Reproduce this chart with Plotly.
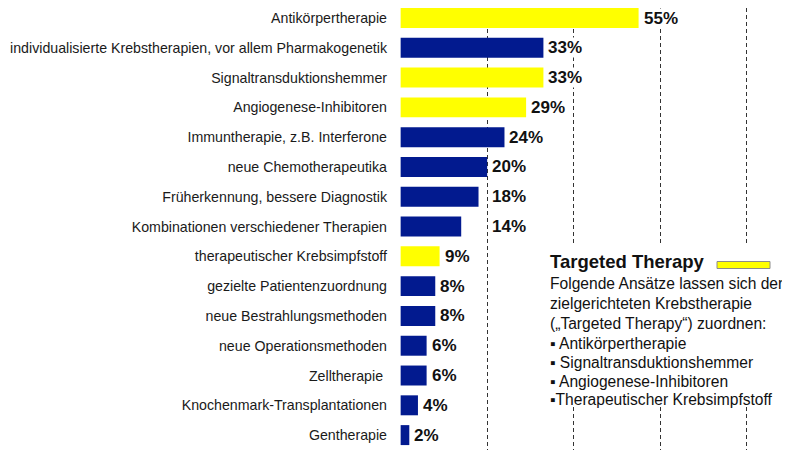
import plotly.graph_objects as go

categories = [
    "Antikörpertherapie",
    "individualisierte Krebstherapien, vor allem Pharmakogenetik",
    "Signaltransduktionshemmer",
    "Angiogenese-Inhibitoren",
    "Immuntherapie, z.B. Interferone",
    "neue Chemotherapeutika",
    "Früherkennung, bessere Diagnostik",
    "Kombinationen verschiedener Therapien",
    "therapeutischer Krebsimpfstoff",
    "gezielte Patientenzuordnung",
    "neue Bestrahlungsmethoden",
    "neue Operationsmethoden",
    "Zelltherapie\u00a0",
    "Knochenmark-Transplantationen",
    "Gentherapie",
]
values = [55, 33, 33, 29, 24, 20, 18, 14, 9, 8, 8, 6, 6, 4, 2]
targeted = [True, False, True, True, False, False, False, False, True,
            False, False, False, False, False, False]
x_ticks = [0, 20, 40, 60, 80]

YELLOW = "#FFFF00"
BLUE = "#021A8F"
colors = [YELLOW if t else BLUE for t in targeted]

# page body has an 8px margin; the figure is laid out in window pixels minus that
OFF = 8
W, H = 790 - OFF, 450 - OFF
L, R, T, B = 400 - OFF, 0, 0, 0
pw, ph = W - L - R, H - T - B
X_MAX = 90
LABEL_W = 8.5  # approx. label width in data units
SHIFT_GRID = x_ticks[1]  # labels crossing this gridline are moved past it

def px(x):
    return (x - OFF - L) / pw

def py(y):
    return (H - B - (y - OFF)) / ph

fig = go.Figure()
fig.add_trace(go.Bar(
    x=values, y=categories, orientation="h",
    marker=dict(color=colors, line=dict(width=0)),
    width=0.67,
    hoverinfo="skip",
))

for cat, v in zip(categories, values):
    pos = SHIFT_GRID if v < SHIFT_GRID < v + LABEL_W + 1 else v
    fig.add_annotation(x=pos, y=cat, xref="x", yref="y",
                       xanchor="left", yanchor="middle", xshift=4, showarrow=False,
                       text=f"<b>{v}%</b>", bgcolor="white", borderpad=0,
                       font=dict(family="Liberation Sans, Arial", size=17, color="#111"))

# white box behind the explanatory legend
fig.add_shape(type="rect", xref="paper", yref="paper",
              x0=px(543), x1=px(790), y0=py(406), y1=py(246),
              fillcolor="white", line=dict(width=0), layer="above")
# yellow legend swatch
fig.add_shape(type="rect", xref="paper", yref="paper",
              x0=px(717), x1=px(770), y0=py(268.5), y1=py(261.5),
              fillcolor=YELLOW, line=dict(color="#8c8c8c", width=1), layer="above")

fig.add_annotation(xref="paper", yref="paper", x=px(548), y=py(262),
                   xanchor="left", yanchor="middle", showarrow=False,
                   text="<b>Targeted Therapy</b>",
                   font=dict(family="Liberation Sans, Arial", size=18.5, color="#111"))

body_lines = [
    "Folgende Ansätze lassen sich der",
    "zielgerichteten Krebstherapie",
    "(„Targeted Therapy“) zuordnen:",
    "▪ Antikörpertherapie",
    "▪ Signaltransduktionshemmer",
    "▪ Angiogenese-Inhibitoren",
    "▪Therapeutischer Krebsimpfstoff",
]
line_y = [283, 303, 323, 343, 362, 381, 399]
for txt, yy in zip(body_lines, line_y):
    fig.add_annotation(xref="paper", yref="paper", x=px(548), y=py(yy),
                       xanchor="left", yanchor="middle", showarrow=False,
                       text=txt,
                       font=dict(family="Liberation Sans, Arial", size=15.6, color="#111"))

fig.update_layout(
    width=W, height=H,
    margin=dict(l=L, r=R, t=T, b=B, pad=0, autoexpand=False),
    plot_bgcolor="white", paper_bgcolor="white",
    showlegend=False,
    xaxis=dict(range=[-0.15, X_MAX], tickvals=x_ticks, showticklabels=False,
               showgrid=True, gridcolor="#333333", gridwidth=1.3,
               griddash="4px,3px", zeroline=False, showline=False, fixedrange=True),
    yaxis=dict(categoryorder="array", categoryarray=categories,
               range=[14.5, -0.336], showgrid=False, zeroline=False, showline=False,
               ticks="", ticklabelstandoff=12, automargin=False,
               tickfont=dict(family="Liberation Sans, Arial", size=14.2, color="#1a1a1a")),
)

fig.write_html("out.html")
